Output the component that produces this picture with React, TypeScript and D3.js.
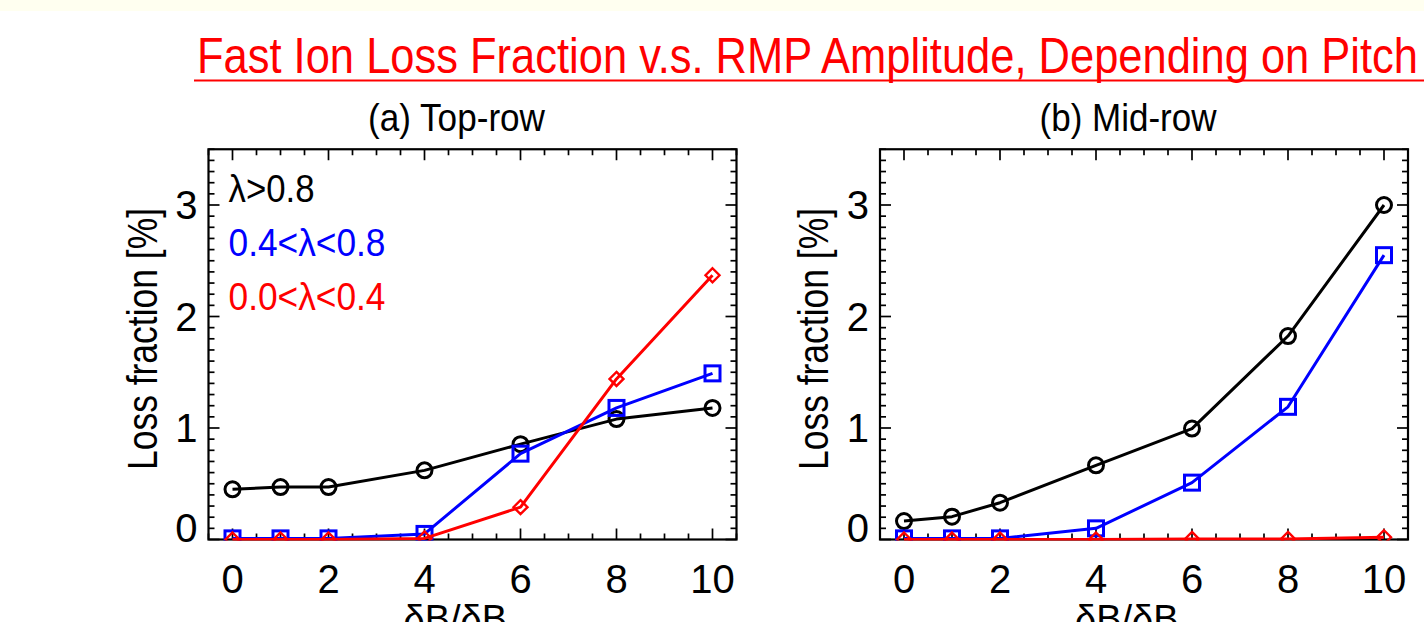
import React from "react";
import * as d3 from "d3";

const xValues = [0, 1, 2, 4, 6, 8, 10];

const topBlack = [0.45, 0.47, 0.47, 0.62, 0.855, 1.08, 1.18];
const topBlue = [0.01, 0.01, 0.01, 0.05, 0.77, 1.18, 1.49];
const topRed = [0.0, 0.0, 0.0, 0.01, 0.29, 1.44, 2.37];

const midBlack = [0.165, 0.205, 0.33, 0.665, 0.995, 1.825, 3.0];
const midBlue = [0.01, 0.01, 0.01, 0.1, 0.51, 1.19, 2.55];
const midRed = [0.0, 0.0, 0.0, 0.0, 0.005, 0.005, 0.02];

const xMajorTicks = [0, 2, 4, 6, 8, 10];
const yMajorTicks = [0, 1, 2, 3];

const legendLabels = ["λ>0.8", "0.4<λ<0.8", "0.0<λ<0.4"];
const legendWidths = [86, 157, 157];
const seriesColors = ["#000000", "#0000ff", "#ff0000"];
const seriesMarkers = ["circle", "square", "diamond"];

const mainTitle = "Fast Ion Loss Fraction v.s. RMP Amplitude, Depending on Pitch";
const panelTitles = ["(a) Top-row", "(b) Mid-row"];
const yLabel = "Loss fraction [%]";

const FONT = "'Liberation Sans', Arial, Helvetica, sans-serif";

function Marker({ kind, x, y, color }: { kind: string; x: number; y: number; color: string }) {
  if (kind === "circle") {
    return <circle cx={x} cy={y} r={7.5} fill="none" stroke={color} strokeWidth={3} />;
  }
  if (kind === "square") {
    return <rect x={x - 7.5} y={y - 7.5} width={15} height={15} fill="none" stroke={color} strokeWidth={3} />;
  }
  const s = 7;
  return (
    <path
      d={`M${x},${y - s}L${x + s},${y}L${x},${y + s}L${x - s},${y}Z`}
      fill="none"
      stroke={color}
      strokeWidth={2.4}
    />
  );
}

function Panel({
  id,
  left,
  right,
  title,
  series,
  showLegend,
}: {
  id: string;
  left: number;
  right: number;
  title: string;
  series: number[][];
  showLegend: boolean;
}) {
  const top = 149.25;
  const bottom = 539.5;
  const x = d3.scaleLinear().domain([-0.5, 10.5]).range([left, right]);
  const y = d3.scaleLinear().domain([0, 3.5]).range([bottom, top]);
  const xMinor = d3.range(-0.5, 10.51, 0.5).filter((v) => !xMajorTicks.includes(v));
  const yMinor = d3.range(0, 36).map((i) => i / 10).filter((v) => !yMajorTicks.includes(v));
  const line = d3
    .line<number>()
    .x((_, i) => x(xValues[i]))
    .y((d) => y(d));
  const cx = (left + right) / 2;
  const majL = 11;
  const minL = 6;
  return (
    <g>
      <defs>
        <clipPath id={`clip-${id}`}>
          <rect x={left} y={top} width={right - left} height={bottom - top + 1} />
        </clipPath>
      </defs>
      <text
        x={cx - 16}
        y={131}
        fontFamily={FONT}
        fontSize={39}
        textAnchor="middle"
        textLength={177}
        lengthAdjust="spacingAndGlyphs"
      >
        {title}
      </text>
      {/* ticks */}
      <g stroke="#000" strokeWidth={1.7}>
        {xMajorTicks.map((v) => (
          <g key={`xM${v}`}>
            <line x1={x(v)} x2={x(v)} y1={bottom} y2={bottom - majL} />
            <line x1={x(v)} x2={x(v)} y1={top} y2={top + majL} />
          </g>
        ))}
        {xMinor.map((v) => (
          <g key={`xm${v}`}>
            <line x1={x(v)} x2={x(v)} y1={bottom} y2={bottom - minL} />
            <line x1={x(v)} x2={x(v)} y1={top} y2={top + minL} />
          </g>
        ))}
        {yMajorTicks.map((v) => (
          <g key={`yM${v}`}>
            <line x1={left} x2={left + majL} y1={y(v)} y2={y(v)} />
            <line x1={right} x2={right - majL} y1={y(v)} y2={y(v)} />
          </g>
        ))}
        {yMinor.map((v) => (
          <g key={`ym${v}`}>
            <line x1={left} x2={left + minL} y1={y(v)} y2={y(v)} />
            <line x1={right} x2={right - minL} y1={y(v)} y2={y(v)} />
          </g>
        ))}
      </g>
      <rect x={left} y={top} width={right - left} height={bottom - top} fill="none" stroke="#000" strokeWidth={2.2} />
      {/* tick labels */}
      {xMajorTicks.map((v) => (
        <text key={`xl${v}`} x={x(v)} y={593} fontFamily={FONT} fontSize={40} textAnchor="middle">
          {v}
        </text>
      ))}
      {yMajorTicks.map((v) => (
        <text
          key={`yl${v}`}
          x={left - 11}
          y={y(v) + 14 - (v === 0 ? 12 : 0)}
          fontFamily={FONT}
          fontSize={40}
          textAnchor="end"
        >
          {v}
        </text>
      ))}
      {/* axis titles */}
      <text
        transform={`translate(${left - 52},339) rotate(-90)`}
        fontFamily={FONT}
        fontSize={42}
        textAnchor="middle"
        textLength={262}
        lengthAdjust="spacingAndGlyphs"
      >
        {yLabel}
      </text>
      <text x={cx - 10} y={632} fontFamily={FONT} fontSize={38} textAnchor="middle">
        δB/δB
        <tspan fontSize={26} dy={10}>0</tspan>
      </text>
      {/* data */}
      <g clipPath={`url(#clip-${id})`}>
        {series.map((vals, si) => (
          <g key={`s${si}`}>
            <path d={line(vals) || ""} fill="none" stroke={seriesColors[si]} strokeWidth={3} strokeLinejoin="round" />
            {vals.map((v, i) => (
              <Marker key={i} kind={seriesMarkers[si]} x={x(xValues[i])} y={y(v)} color={seriesColors[si]} />
            ))}
          </g>
        ))}
      </g>
      {showLegend &&
        legendLabels.map((lab, i) => (
          <text
            key={lab}
            x={left + 20}
            y={202 + i * 54}
            fontFamily={FONT}
            fontSize={38}
            fill={seriesColors[i]}
            textLength={legendWidths[i]}
            lengthAdjust="spacingAndGlyphs"
          >
            {lab}
          </text>
        ))}
    </g>
  );
}

export default function App() {
  return (
    <svg
      width={1424}
      height={622}
      style={{ position: "absolute", left: 0, top: 0, background: "#ffffff" }}
    >
      <rect x={0} y={0} width={1424} height={11} fill="#fffff0" />
      <text
        x={197}
        y={73}
        fontFamily={FONT}
        fontSize={50}
        fill="#ff0000"
        textLength={1221}
        lengthAdjust="spacingAndGlyphs"
      >
        {mainTitle}
      </text>
      <line x1={194} x2={1424} y1={80.5} y2={80.5} stroke="#ff0000" strokeWidth={2} />
      <Panel
        id="a"
        left={208.5}
        right={736.5}
        title={panelTitles[0]}
        series={[topBlack, topBlue, topRed]}
        showLegend={true}
      />
      <Panel
        id="b"
        left={880}
        right={1408}
        title={panelTitles[1]}
        series={[midBlack, midBlue, midRed]}
        showLegend={false}
      />
    </svg>
  );
}
